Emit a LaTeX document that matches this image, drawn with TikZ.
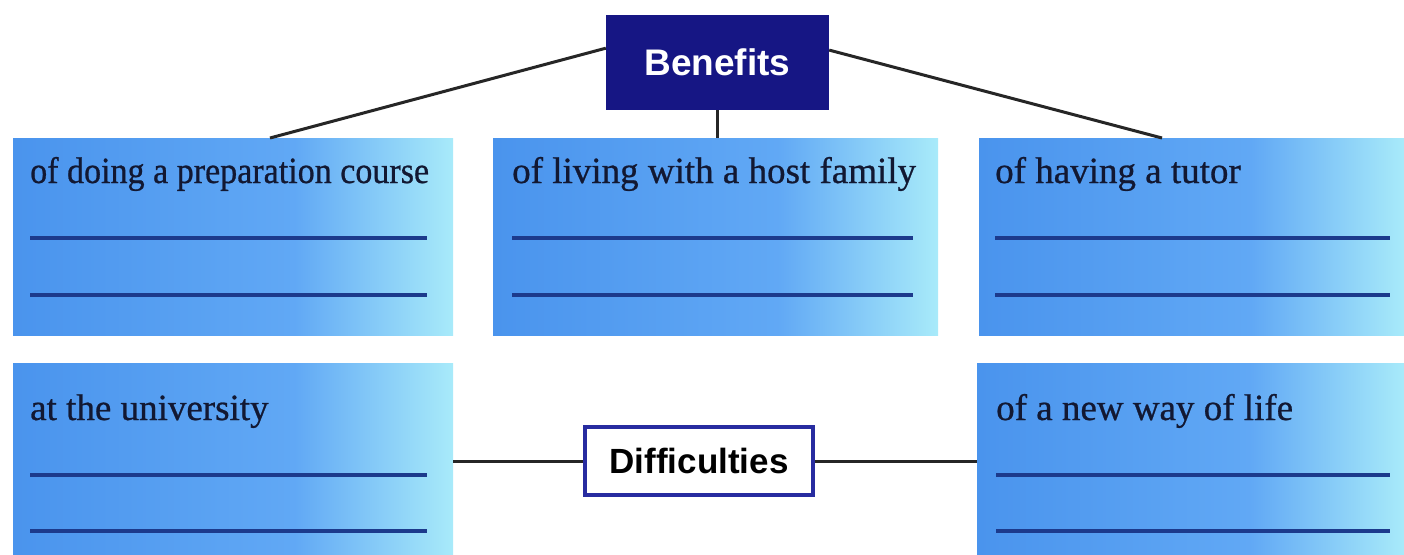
\documentclass[tikz,border=0pt]{standalone}
\usepackage{fontspec}
\setmainfont{Liberation Serif}
\newfontfamily\boxfont{Liberation Serif}[FakeBold=0.7]
\newfontfamily\headfont{Liberation Sans}
\usetikzlibrary{calc}
\definecolor{navyfill}{RGB}{22,22,132}
\definecolor{diffblue}{RGB}{40,44,160}
\definecolor{lineblue}{RGB}{28,58,140}
\definecolor{textdark}{RGB}{18,24,50}
\pgfdeclarehorizontalshading{boxshade}{100bp}{rgb(0bp)=(0.29,0.58,0.93); rgb(25bp)=(0.29,0.58,0.93); rgb(57bp)=(0.38,0.66,0.96); rgb(75bp)=(0.66,0.92,0.98); rgb(100bp)=(0.66,0.92,0.98)}
\tikzset{
  bluebox/.style={anchor=north west, shading=boxshade, draw=none, inner sep=0pt},
  boxtext/.style={anchor=base west, inner sep=0pt, text=textdark, font=\boxfont\fontsize{37}{40}\selectfont},
  underl/.style={draw=lineblue, line width=3.3pt},
  conn/.style={draw=black!85, line width=3pt},
  headbox/.style={fill=navyfill, text=white, inner sep=0pt, font=\headfont\bfseries\fontsize{37}{40}\selectfont},
  diffbox/.style={draw=diffblue, line width=4.5pt, fill=white, inner sep=0pt, text=black, font=\headfont\bfseries\fontsize{35}{38}\selectfont}
}
\begin{document}
\begin{tikzpicture}[x=1pt,y=-1pt]
\useasboundingbox[fill=white] (0,0) rectangle (1404,554);
% boxes
\node[bluebox, minimum width=440pt, minimum height=197pt] (b1) at (13,138) {};
\node[bluebox, minimum width=445pt, minimum height=197pt] (b2) at (493,138) {};
\node[bluebox, minimum width=425pt, minimum height=197pt] (b3) at (979,138) {};
\node[bluebox, minimum width=440pt, minimum height=191pt] (b4) at (13,363) {};
\node[bluebox, minimum width=427pt, minimum height=191pt] (b5) at (977,363) {};
% texts
\node[boxtext] (t1) at (30,183) {\scalebox{0.92}[1]{of doing a preparation course}};
\node[boxtext] (t2) at (512,183) {of living with a host family};
\node[boxtext] (t3) at (995,183) {of having a tutor};
\node[boxtext] (t4) at (30,420) {at the university};
\node[boxtext] (t5) at (996,420) {of a new way of life};
% underlines
\draw[underl] (30,238) -- (427,238);
\draw[underl] (30,295) -- (427,295);
\draw[underl] (512,238) -- (913,238);
\draw[underl] (512,295) -- (913,295);
\draw[underl] (995,238) -- (1390,238);
\draw[underl] (995,295) -- (1390,295);
\draw[underl] (30,475) -- (427,475);
\draw[underl] (30,531) -- (427,531);
\draw[underl] (996,475) -- (1390,475);
\draw[underl] (996,531) -- (1390,531);
% head boxes
\node[headbox, minimum width=223pt, minimum height=95pt] (ben) at (717.5,62.5) {Benefits};
\node[diffbox, minimum width=228pt, minimum height=68pt] (dif) at (699,461) {Difficulties};
% connectors
\draw[conn] ($(ben.north west)!0.35!(ben.south west)$) -- ($(b1.north west)+(257,0)$);
\draw[conn] ($(ben.north east)!0.37!(ben.south east)$) -- ($(b3.north west)+(183,0)$);
\draw[conn] (ben.south) -- (ben.south |- b2.north);
\draw[conn] (dif.west) -- (dif.west -| b4.east);
\draw[conn] (dif.east) -- (dif.east -| b5.west);
\end{tikzpicture}
\end{document}
